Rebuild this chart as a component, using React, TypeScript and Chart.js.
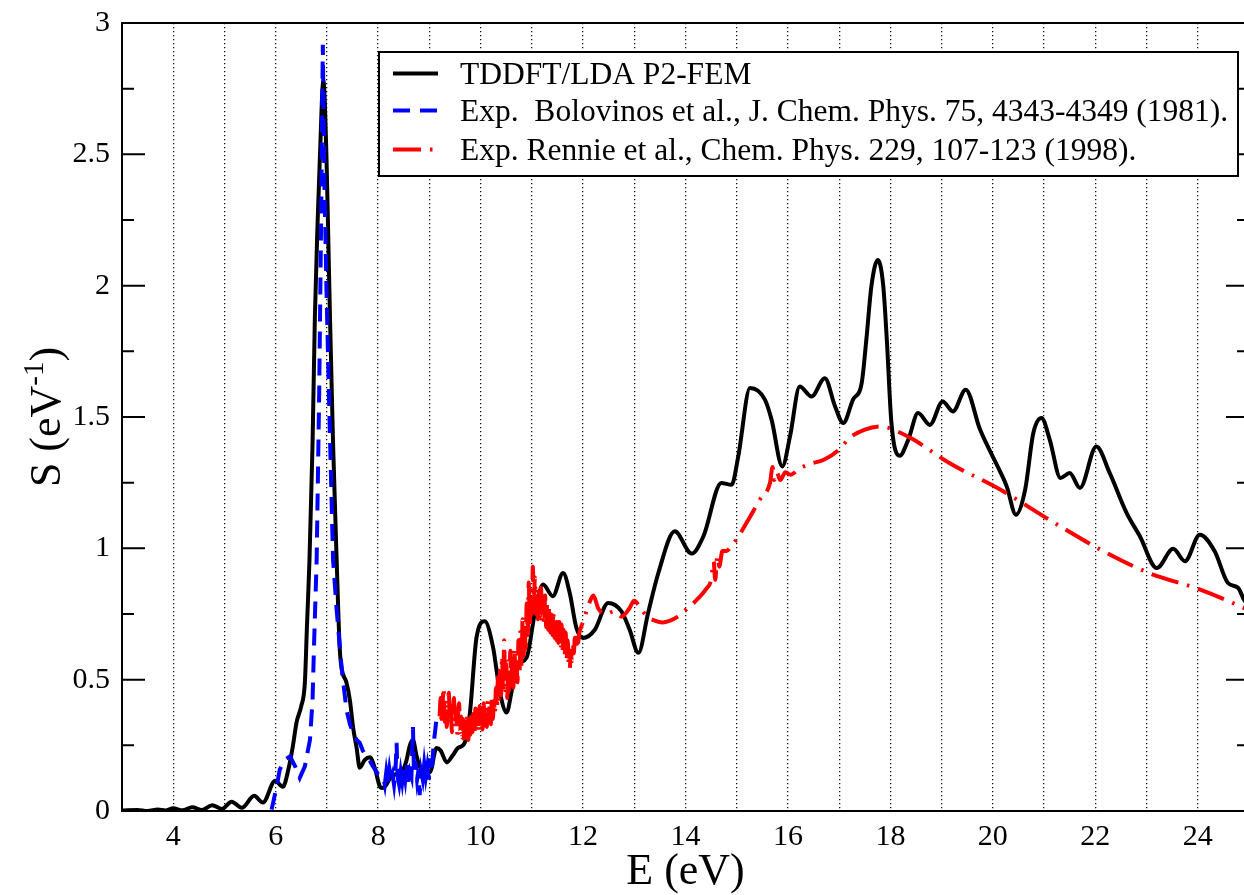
import React, { useEffect, useRef } from "react";
import { Chart, registerables } from "chart.js";

Chart.register(...registerables);

// ---------- DATA ----------
const xTicks = [4, 6, 8, 10, 12, 14, 16, 18, 20, 22, 24];
const yTicks = [0, 0.5, 1, 1.5, 2, 2.5, 3];

const seriesLabels = [
  "TDDFT/LDA P2-FEM",
  "Exp.  Bolovinos et al., J. Chem. Phys. 75, 4343-4349 (1981).",
  "Exp. Rennie et al., Chem. Phys. 229, 107-123 (1998).",
];

// TDDFT/LDA P2-FEM (black)
const tddftX = [
  3.0, 3.3, 3.5, 3.7, 3.85, 4.0, 4.18, 4.37, 4.56, 4.76, 4.95, 5.14, 5.34, 5.58, 5.75, 5.99, 6.14, 6.25, 6.33, 6.41,
  6.5, 6.57, 6.61, 6.66, 6.72, 6.765, 6.82, 6.865, 6.93, 6.99, 7.03, 7.06, 7.12, 7.19, 7.25, 7.29, 7.38, 7.45, 7.51, 7.58,
  7.64, 7.74, 7.84, 7.94, 8.03, 8.08, 8.16, 8.25, 8.35, 8.45, 8.55, 8.62, 8.68, 8.75, 8.82, 8.92, 9.01, 9.14, 9.22, 9.34,
  9.45, 9.56, 9.69, 9.79, 9.92, 10.08, 10.24, 10.38, 10.51, 10.6, 10.7, 10.9, 11.06, 11.22, 11.41, 11.61, 11.74, 11.87, 12.0, 12.23,
  12.49, 12.75, 12.91, 13.08, 13.27, 13.47, 13.79, 14.12, 14.35, 14.7, 14.9, 15.03, 15.26, 15.55, 15.68, 15.89, 16.04, 16.23, 16.46, 16.72,
  16.92, 17.08, 17.27, 17.44, 17.53, 17.63, 17.755, 17.86, 17.93, 18.02, 18.18, 18.35, 18.54, 18.77, 19.02, 19.22, 19.47, 19.75, 20.14, 20.27,
  20.45, 20.63, 20.79, 20.95, 21.11, 21.32, 21.5, 21.7, 22.02, 22.28, 22.61, 22.87, 23.2, 23.52, 23.75, 24.04, 24.33, 24.59, 24.79, 24.9,
  25.0,
];
const tddftY = [
  0.002, 0.004, 0.0, 0.006, 0.002, 0.01, 0.003, 0.014, 0.004, 0.022, 0.008, 0.035, 0.012, 0.058, 0.032, 0.115, 0.092, 0.16, 0.24, 0.34,
  0.4, 0.49, 0.7, 0.957, 1.4, 1.88, 2.25, 2.5, 2.78, 2.5, 2.15, 1.88, 1.4, 0.957, 0.62, 0.54, 0.49, 0.42, 0.32, 0.24,
  0.165, 0.195, 0.205, 0.16, 0.095, 0.088, 0.1, 0.13, 0.14, 0.145, 0.19, 0.25, 0.27, 0.21, 0.165, 0.15, 0.148, 0.24, 0.23, 0.185,
  0.21, 0.24, 0.26, 0.37, 0.66, 0.722, 0.627, 0.45, 0.375, 0.45, 0.55, 0.585, 0.755, 0.862, 0.818, 0.906, 0.83, 0.697, 0.659, 0.69,
  0.792, 0.76, 0.69, 0.602, 0.754, 0.906, 1.065, 0.98, 1.046, 1.249, 1.242, 1.35, 1.61, 1.566, 1.49, 1.312, 1.426, 1.616, 1.578, 1.648,
  1.54, 1.477, 1.566, 1.63, 1.794, 2.0, 2.098, 2.0, 1.794, 1.477, 1.352, 1.414, 1.515, 1.47, 1.559, 1.521, 1.604, 1.452, 1.293, 1.236,
  1.128, 1.223, 1.439, 1.496, 1.414, 1.268, 1.287, 1.23, 1.388, 1.287, 1.135, 1.046, 0.925, 0.998, 0.951, 1.052, 0.989, 0.868, 0.849, 0.805,
  0.78,
];

// Exp. Bolovinos (blue)
const bolovinosX = [
  5.92, 6.02, 6.08, 6.18, 6.28, 6.38, 6.47, 6.57, 6.67, 6.72, 6.75, 6.8, 6.85, 6.89, 6.92, 6.95, 6.99, 7.05, 7.12, 7.19,
  7.29, 7.38, 7.45, 7.51, 7.58, 7.64, 7.7, 7.77, 7.84, 7.9, 8.0, 8.1, 8.13, 8.16, 8.19, 8.22, 8.25, 8.28, 8.31, 8.34,
  8.36, 8.38, 8.41, 8.44, 8.47, 8.5, 8.53, 8.56, 8.59, 8.62, 8.65, 8.68, 8.7, 8.73, 8.76, 8.79, 8.81, 8.84, 8.87, 8.9,
  8.93, 8.96, 8.99, 9.02, 9.05, 9.08, 9.11, 9.15,
];
const bolovinosY = [
  0.005, 0.094, 0.158, 0.196, 0.208, 0.17, 0.126, 0.17, 0.272, 0.424, 0.64, 0.957, 1.6, 2.3, 2.917, 2.4, 2.0, 1.5, 0.957, 0.767,
  0.54, 0.387, 0.33, 0.298, 0.27, 0.26, 0.23, 0.208, 0.19, 0.17, 0.14, 0.13, 0.1, 0.15, 0.11, 0.16, 0.12, 0.14, 0.1, 0.16,
  0.26, 0.13, 0.1, 0.15, 0.11, 0.16, 0.12, 0.18, 0.11, 0.15, 0.13, 0.32, 0.14, 0.19, 0.12, 0.16, 0.06, 0.15, 0.12, 0.18,
  0.13, 0.17, 0.12, 0.2, 0.15, 0.25, 0.3, 0.37,
];

// Exp. Rennie (red)
const rennieX = [
  9.2, 9.22, 9.24, 9.26, 9.28, 9.3, 9.32, 9.34, 9.36, 9.38, 9.4, 9.42, 9.44, 9.46, 9.48, 9.5, 9.52, 9.54, 9.56, 9.58,
  9.6, 9.62, 9.64, 9.66, 9.68, 9.7, 9.72, 9.74, 9.76, 9.78, 9.8, 9.82, 9.84, 9.86, 9.88, 9.9, 9.92, 9.94, 9.96, 9.98,
  10.0, 10.02, 10.04, 10.06, 10.08, 10.1, 10.12, 10.14, 10.16, 10.18, 10.2, 10.22, 10.24, 10.26, 10.28, 10.3, 10.32, 10.34, 10.36, 10.38,
  10.4, 10.42, 10.44, 10.46, 10.48, 10.5, 10.52, 10.54, 10.56, 10.58, 10.6, 10.62, 10.64, 10.66, 10.68, 10.7, 10.72, 10.74, 10.76, 10.78,
  10.8, 10.82, 10.84, 10.86, 10.88, 10.9, 10.92, 10.94, 10.96, 10.98, 11.0, 11.02, 11.04, 11.06, 11.08, 11.1, 11.12, 11.14, 11.16, 11.18,
  11.2, 11.22, 11.24, 11.26, 11.28, 11.3, 11.32, 11.34, 11.36, 11.38, 11.4, 11.42, 11.44, 11.46, 11.48, 11.5, 11.52, 11.54, 11.56, 11.58,
  11.6, 11.62, 11.64, 11.66, 11.68, 11.7, 11.72, 11.74, 11.76, 11.78, 11.8, 11.82, 11.84, 11.86, 11.88, 11.9, 11.93,
  12.0, 12.1, 12.2, 12.3, 12.45, 12.6, 12.75, 12.9, 13.0, 13.1, 13.25, 13.4, 13.55, 13.7, 13.85, 14.0, 14.2, 14.4, 14.5, 14.55,
  14.58, 14.62, 14.66, 14.72, 14.8, 14.9, 15.0, 15.2, 15.45, 15.65, 15.7, 15.73, 15.78, 15.85, 15.95, 16.05, 16.2, 16.4, 16.7, 17.0,
  17.2, 17.5, 17.8, 18.05, 18.45, 18.85, 19.15, 20.15, 21.1, 22.1, 23.05, 24.05, 25.0,
];
const rennieY = [
  0.36, 0.43, 0.33, 0.41, 0.47, 0.34, 0.42, 0.32, 0.4, 0.45, 0.33, 0.39, 0.3, 0.38, 0.43, 0.32, 0.39, 0.29, 0.37, 0.41,
  0.3, 0.36, 0.28, 0.35, 0.26, 0.34, 0.28, 0.37, 0.27, 0.35, 0.29, 0.38, 0.3, 0.37, 0.29, 0.39, 0.31, 0.38, 0.3, 0.4,
  0.32, 0.39, 0.31, 0.41, 0.33, 0.4, 0.32, 0.42, 0.34, 0.41, 0.33, 0.43, 0.35, 0.42, 0.37, 0.47, 0.39, 0.51, 0.41, 0.54,
  0.44, 0.59, 0.45, 0.65, 0.46, 0.56, 0.43, 0.57, 0.46, 0.61, 0.48, 0.58, 0.47, 0.62, 0.51, 0.59, 0.49, 0.65, 0.53, 0.69,
  0.55, 0.73, 0.59, 0.71, 0.62, 0.79, 0.67, 0.87, 0.71, 0.85, 0.75, 0.93, 0.79, 0.89, 0.75, 0.85, 0.73, 0.83, 0.74, 0.85,
  0.72, 0.81, 0.71, 0.82, 0.7, 0.79, 0.69, 0.78, 0.68, 0.77, 0.67, 0.76, 0.66, 0.74, 0.65, 0.73, 0.64, 0.72, 0.63, 0.71,
  0.61, 0.69, 0.59, 0.68, 0.58, 0.65, 0.56, 0.54, 0.61, 0.57, 0.64, 0.6, 0.66, 0.62, 0.67, 0.64, 0.68,
  0.72, 0.78, 0.82, 0.77, 0.75, 0.76, 0.74, 0.77, 0.8, 0.78, 0.74, 0.725, 0.718, 0.725, 0.74, 0.765, 0.8, 0.845, 0.88, 0.95,
  0.88, 0.97, 0.93, 0.99, 0.99, 1.01, 1.035, 1.1, 1.185, 1.25, 1.31, 1.26, 1.29, 1.26, 1.29, 1.28, 1.3, 1.32, 1.337, 1.376,
  1.42, 1.452, 1.464, 1.452, 1.414, 1.363, 1.325, 1.223, 1.109, 0.995, 0.906, 0.843, 0.765,
];

const toPoints = (xs: number[], ys: number[]) => xs.map((x, i) => ({ x, y: ys[i] }));

const SERIF = "'Liberation Serif', 'Times New Roman', 'DejaVu Serif', serif";

// ---------- PLUGINS ----------
const framePlugin = {
  id: "frame",
  afterDatasetsDraw(chart: any) {
    const { ctx, chartArea: a, scales } = chart;
    const ys = scales.y;
    ctx.save();
    ctx.strokeStyle = "#000";
    ctx.lineWidth = 2;
    ctx.setLineDash([]);
    ctx.strokeRect(a.left, a.top, a.right - a.left, a.bottom - a.top);
    for (let k = 0; k <= 12; k++) {
      const v = k * 0.25;
      const p = ys.getPixelForValue(v);
      const len = k % 2 === 0 ? 23 : 12;
      ctx.beginPath();
      ctx.moveTo(a.left, p);
      ctx.lineTo(a.left + len, p);
      ctx.moveTo(a.right, p);
      ctx.lineTo(a.right - len, p);
      ctx.stroke();
    }
    ctx.restore();
  },
};

const legendPlugin = {
  id: "boxLegend",
  afterDraw(chart: any) {
    const { ctx } = chart;
    const box = { x: 379, y: 52, w: 859, h: 124 };
    ctx.save();
    ctx.fillStyle = "#fff";
    ctx.fillRect(box.x, box.y, box.w, box.h);
    ctx.strokeStyle = "#000";
    ctx.lineWidth = 2;
    ctx.setLineDash([]);
    ctx.strokeRect(box.x, box.y, box.w, box.h);
    const rows = [73.5, 110.5, 149.5];
    chart.data.datasets.forEach((ds: any, i: number) => {
      const y = rows[i];
      ctx.strokeStyle = ds.borderColor;
      ctx.lineWidth = ds.borderWidth;
      ctx.setLineDash(ds.borderDash || []);
      ctx.beginPath();
      ctx.moveTo(393, y);
      ctx.lineTo(438, y);
      ctx.stroke();
      ctx.setLineDash([]);
      ctx.fillStyle = "#000";
      ctx.font = `31.5px ${SERIF}`;
      ctx.textBaseline = "middle";
      ctx.textAlign = "left";
      ctx.fillText(ds.label, 460, y + 2);
    });
    ctx.restore();
  },
};

const titlesPlugin = {
  id: "axisTitles",
  afterDraw(chart: any) {
    const { ctx, chartArea: a } = chart;
    ctx.save();
    ctx.fillStyle = "#000";
    ctx.textBaseline = "alphabetic";
    ctx.font = `44px ${SERIF}`;
    ctx.textAlign = "center";
    ctx.fillText("E (eV)", (a.left + a.right) / 2, 884);
    const big = `44px ${SERIF}`;
    const small = `29px ${SERIF}`;
    ctx.font = big;
    const w1 = ctx.measureText("S (eV").width;
    const w3 = ctx.measureText(")").width;
    ctx.font = small;
    const w2 = ctx.measureText("-1").width;
    const total = w1 + w2 + w3;
    ctx.translate(60, (a.top + a.bottom) / 2);
    ctx.rotate(-Math.PI / 2);
    ctx.textAlign = "left";
    const x0 = -total / 2;
    ctx.font = big;
    ctx.fillText("S (eV", x0, 0);
    ctx.font = small;
    ctx.fillText("-1", x0 + w1, -17);
    ctx.font = big;
    ctx.fillText(")", x0 + w1 + w2, 0);
    ctx.restore();
  },
};

export default function App() {
  const ref = useRef<HTMLCanvasElement | null>(null);

  useEffect(() => {
    document.body.style.margin = "0";
    document.body.style.overflow = "hidden";
    const canvas = ref.current;
    if (!canvas) return;
    const chart = new Chart(canvas, {
      type: "line",
      data: {
        datasets: [
          {
            label: seriesLabels[0],
            data: toPoints(tddftX, tddftY),
            borderColor: "#000000",
            borderWidth: 4,
            pointRadius: 0,
            cubicInterpolationMode: "monotone",
            order: 3,
          },
          {
            label: seriesLabels[1],
            data: toPoints(bolovinosX, bolovinosY),
            borderColor: "#0000ff",
            borderWidth: 4,
            borderDash: [17, 10],
            pointRadius: 0,
            tension: 0,
            order: 2,
          },
          {
            label: seriesLabels[2],
            data: toPoints(rennieX, rennieY),
            borderColor: "#ff0000",
            borderWidth: 4,
            borderDash: [28, 9, 2.5, 9],
            pointRadius: 0,
            cubicInterpolationMode: "monotone",
            order: 1,
          },
        ] as any,
      },
      options: {
        animation: false,
        responsive: false,
        events: [],
        layout: { padding: { left: 0, top: 23, right: 7, bottom: 0 } },
        plugins: { legend: { display: false }, tooltip: { enabled: false } },
        scales: {
          x: {
            type: "linear",
            min: 3,
            max: 25,
            afterFit: (s: any) => {
              s.height = 84;
              s.paddingLeft = 0;
              s.paddingRight = 0;
            },
            afterBuildTicks: (s: any) => {
              const t = [];
              for (let v = 3; v <= 25; v++) t.push({ value: v });
              s.ticks = t;
            },
            ticks: {
              autoSkip: false,
              maxRotation: 0,
              padding: 8,
              color: "#000",
              font: { family: SERIF, size: 30 },
              callback: (v: any) => (xTicks.includes(Number(v)) ? String(v) : ""),
            },
            grid: {
              drawTicks: false,
              lineWidth: 1.3,
              color: (c: any) =>
                c.tick && (c.tick.value === 3 || c.tick.value === 25) ? "rgba(0,0,0,0)" : "#111",
            },
            border: { display: false, dash: [1.3, 2.7] },
          },
          y: {
            type: "linear",
            min: 0,
            max: 3,
            afterFit: (s: any) => {
              s.width = 122;
              s.paddingTop = 0;
              s.paddingBottom = 0;
            },
            afterBuildTicks: (s: any) => {
              s.ticks = yTicks.map((v) => ({ value: v }));
            },
            ticks: {
              padding: 12,
              color: "#000",
              font: { family: SERIF, size: 30 },
              callback: (v: any) => String(v),
            },
            grid: { display: false, drawTicks: false },
            border: { display: false },
          },
        },
      },
      plugins: [framePlugin, legendPlugin, titlesPlugin],
    });
    return () => chart.destroy();
  }, []);

  return (
    <div
      style={{
        position: "fixed",
        left: 0,
        top: 0,
        width: 1244,
        height: 895,
        overflow: "hidden",
        background: "#fff",
      }}
    >
      <canvas ref={ref} width={1256} height={895} style={{ width: 1256, height: 895, display: "block" }} />
    </div>
  );
}
